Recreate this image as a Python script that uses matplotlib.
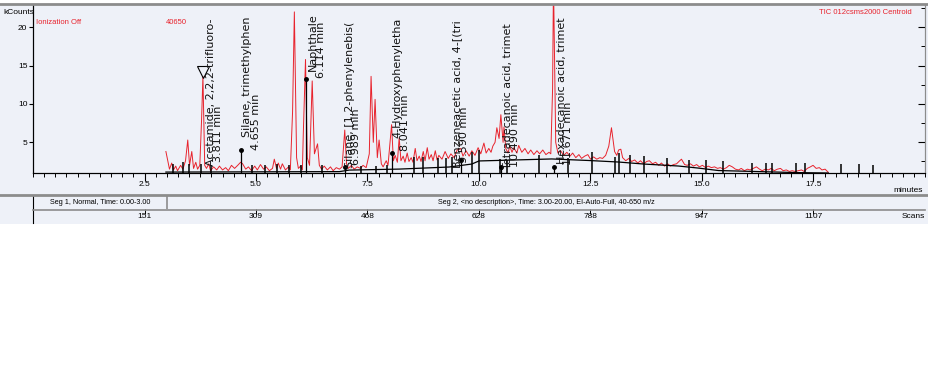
import matplotlib.pyplot as plt
from matplotlib.patches import Rectangle
from matplotlib.lines import Line2D
from matplotlib.ticker import MultipleLocator

# TIC trace (retention time in minutes, intensity in kCounts)
tic_time = [
    2.98, 3.06, 3.11, 3.15, 3.20, 3.24, 3.31, 3.36, 3.42, 3.47, 3.51, 3.56, 3.60, 3.65, 3.69,
    3.74, 3.78, 3.81, 3.85, 3.89, 3.94, 3.98, 4.05, 4.12, 4.18, 4.25, 4.32, 4.38, 4.45, 4.52,
    4.59, 4.655, 4.70, 4.77, 4.83, 4.90, 4.97, 5.03, 5.10, 5.17, 5.23, 5.30, 5.37, 5.41, 5.46,
    5.50, 5.55, 5.59, 5.66, 5.73, 5.77, 5.82, 5.86, 5.91, 5.95, 6.00, 6.04, 6.06, 6.11, 6.15,
    6.20, 6.26, 6.31, 6.38, 6.42, 6.47, 6.53, 6.60, 6.67, 6.73, 6.80, 6.87, 6.93, 6.99, 7.03,
    7.07, 7.14, 7.20, 7.27, 7.34, 7.40, 7.47, 7.54, 7.58, 7.63, 7.67, 7.72, 7.76, 7.81, 7.85,
    7.92, 7.96, 8.04, 8.08, 8.12, 8.17, 8.21, 8.25, 8.30, 8.34, 8.39, 8.43, 8.48, 8.52, 8.57,
    8.61, 8.66, 8.70, 8.75, 8.79, 8.84, 8.88, 8.93, 8.97, 9.02, 9.06, 9.10, 9.17, 9.24, 9.31,
    9.37, 9.44, 9.51, 9.59, 9.64, 9.71, 9.78, 9.84, 9.91, 9.98, 10.04, 10.11, 10.16, 10.22, 10.27,
    10.31, 10.36, 10.40, 10.45, 10.49, 10.54, 10.56, 10.60, 10.65, 10.69, 10.74, 10.78, 10.85, 10.89, 10.96,
    11.03, 11.10, 11.16, 11.23, 11.30, 11.36, 11.43, 11.50, 11.57, 11.61, 11.65, 11.67, 11.72, 11.77, 11.83,
    11.90, 11.97, 12.04, 12.10, 12.17, 12.24, 12.30, 12.37, 12.44, 12.50, 12.57, 12.64, 12.71, 12.77, 12.84,
    12.91, 12.97, 13.04, 13.09, 13.13, 13.18, 13.22, 13.29, 13.36, 13.42, 13.49, 13.56, 13.62, 13.69, 13.76,
    13.82, 13.89, 13.96, 14.03, 14.09, 14.16, 14.23, 14.29, 14.36, 14.43, 14.50, 14.54, 14.61, 14.67, 14.74,
    14.81, 14.88, 14.94, 15.01, 15.08, 15.14, 15.21, 15.28, 15.35, 15.41, 15.48, 15.55, 15.61, 15.68, 15.75,
    15.82, 15.88, 15.95, 16.02, 16.08, 16.15, 16.22, 16.29, 16.35, 16.42, 16.49, 16.55, 16.62, 16.69, 16.76,
    16.82, 16.89, 16.96, 17.02, 17.09, 17.16, 17.23, 17.29, 17.36, 17.43, 17.49, 17.56, 17.63, 17.69, 17.76,
    17.83,
]
tic_kcounts = [
    3.8, 1.5, 2.3, 1.4, 1.9, 1.3, 2.0, 1.5, 2.6, 5.3, 2.0, 3.8, 1.6, 2.4, 1.5,
    2.0, 8.0, 13.6, 2.0, 1.6, 2.2, 1.3, 1.8, 1.4, 1.9, 1.4, 1.7, 1.3, 2.0, 1.6,
    2.0, 2.4, 2.2, 1.5, 1.8, 1.3, 1.9, 1.4, 2.1, 1.5, 1.8, 1.3, 1.6, 2.8, 1.6,
    2.3, 1.5, 2.2, 1.4, 1.8, 1.4, 9.0, 22.0, 3.0, 1.6, 1.9, 1.4, 6.0, 15.8, 3.0,
    2.0, 13.0, 3.5, 4.8, 2.0, 1.5, 1.9, 1.4, 1.8, 1.3, 1.7, 1.5, 1.8, 6.6, 2.2,
    1.6, 2.0, 1.5, 1.8, 1.6, 2.0, 1.7, 3.5, 13.6, 5.0, 10.6, 3.0, 5.3, 2.2, 1.8,
    2.6, 2.0, 7.3, 2.6, 3.3, 2.4, 5.6, 2.6, 3.2, 2.4, 3.6, 2.5, 3.0, 2.4, 4.2,
    2.6, 3.2, 2.5, 3.8, 2.6, 4.3, 2.8, 3.4, 2.6, 3.9, 2.7, 3.3, 2.8, 3.8, 2.9,
    3.5, 3.0, 4.0, 4.2, 3.2, 3.9, 3.2, 3.9, 3.3, 4.3, 3.5, 4.9, 3.6, 4.2, 3.7,
    4.5, 5.0, 6.9, 5.5, 8.6, 5.0, 7.0, 4.2, 3.6, 4.5, 3.7, 4.3, 3.6, 4.6, 3.7,
    4.2, 3.5, 4.0, 3.4, 3.9, 3.5, 4.0, 3.4, 3.7, 3.5, 12.0, 26.0, 5.0, 3.6, 3.9,
    3.3, 3.7, 3.2, 3.6, 3.0, 3.4, 2.9, 3.2, 3.4, 2.8, 3.1, 2.8, 3.0, 2.9, 3.3,
    4.5, 6.9, 3.8, 3.3, 4.0, 4.1, 3.0, 2.6, 2.9, 2.5, 2.7, 2.3, 2.6, 2.2, 2.5,
    2.6, 2.2, 2.4, 2.0, 2.3, 1.9, 2.2, 1.9, 2.1, 2.2, 2.6, 2.8, 2.1, 2.0, 2.2,
    1.9, 2.1, 1.8, 2.0, 1.7, 1.9, 1.7, 1.8, 1.6, 1.7, 1.5, 1.7, 2.0, 1.8, 1.5,
    1.4, 1.6, 1.3, 1.5, 1.4, 1.6, 1.8, 1.5, 1.3, 1.5, 1.4, 1.6, 1.3, 1.5, 1.6,
    1.3, 1.4, 1.2, 1.3, 1.2, 1.3, 1.4, 1.2, 1.6, 1.8, 2.0, 1.6, 1.7, 1.4, 1.5,
    1.1,
]

# integration baseline
base_time = [2.98, 6.87, 7.09, 8.21, 9.33, 9.84, 10.00, 11.63, 12.46, 13.13, 13.69, 14.47, 14.92, 15.37, 17.16, 17.83]
base_kcounts = [1.12, 1.18, 1.38, 1.51, 1.78, 2.17, 2.57, 2.83, 2.63, 2.43, 2.17, 1.91, 1.64, 1.32, 1.05, 1.0]

# integration event markers
event_time = [3.13, 3.36, 3.49, 3.76, 3.98, 4.92, 5.21, 5.48, 5.75, 6.02,
              6.47, 7.36, 7.70, 7.94, 8.55, 8.75, 9.08, 9.26, 9.40, 9.84,
              10.00, 10.47, 10.63, 11.34, 11.99, 12.53, 13.06, 13.15, 13.38, 13.71,
              14.21, 14.70, 15.10, 15.46, 16.13, 16.44, 16.58, 17.11, 17.32, 18.12,
              18.52, 18.84]
event_top = [2.2, 2.4, 2.2, 2.2, 2.0, 2.0, 2.0, 2.2, 2.0, 2.0,
             2.0, 1.9, 1.9, 2.0, 3.1, 3.1, 3.0, 3.0, 3.1, 3.75,
             4.0, 2.8, 2.7, 3.4, 3.0, 3.75, 3.1, 3.6, 3.4, 3.2,
             3.0, 2.7, 2.7, 2.6, 2.3, 2.3, 2.3, 2.3, 2.3, 2.2,
             2.2, 2.0]

# identified peaks
peak_names = [
    "Acetamide, 2,2,2-trifluoro-",
    "Silane, trimethylphen",
    "Naphthale",
    "Silane, [1,2-phenylenebis(",
    "4-Hydroxyphenyletha",
    "Benzeneacetic acid, 4-[(tri",
    "Tetradecanoic acid, trimet",
    "Hexadecanoic acid, trimet",
]
peak_rt = [3.811, 4.655, 6.114, 6.989, 8.041, 9.590, 10.490, 11.671]
peak_mark = [14.2, 4.0, 13.3, 1.8, 3.6, 2.7, 1.8, 1.8]

# label placement: (name dx, name start, time dx, time start) in minutes / kCounts
label_place = [
    (0.18, 1.9, 0.34, 2.4),
    (0.14, 5.7, 0.345, 4.0),
    (0.16, 14.3, 0.34, 13.4),
    (0.12, 1.7, 0.25, 2.0),
    (0.14, 5.5, 0.30, 3.9),
    (-0.08, 1.7, 0.07, 2.3),
    (0.16, 1.5, 0.32, 1.8),
    (0.19, 2.2, 0.33, 2.0),
]

# segments and scan axis
seg_bounds = [0.0, 3.0, 20.0]
seg_text = ["Seg 1, Normal, Time: 0.00-3.00",
            "Seg 2, <no description>, Time: 3.00-20.00, EI-Auto-Full, 40-650 m/z"]
scan_times = [2.5, 5.0, 7.5, 10.0, 12.5, 15.0, 17.5]
scan_labels = ["151", "309", "468", "628", "788", "947", "1107"]

W, H = 929, 384
PANEL = '#eef1f8'
GRAY = '#8c8c8c'
RED = '#e8232d'
SMALL = ['Liberation Sans Narrow', 'Liberation Sans', 'DejaVu Sans']


def fbox(x0, y0, x1, y1):
    # pixel box, origin top-left -> figure rect
    return [x0 / W, 1 - y1 / H, (x1 - x0) / W, (y1 - y0) / H]


fig = plt.figure(figsize=(W / 100, H / 100), dpi=100)
fig.patch.set_facecolor('white')
fig.add_artist(Rectangle((0, 1 - 224 / H), 1, 220 / H, transform=fig.transFigure,
                         facecolor=PANEL, edgecolor='none', zorder=0))

ax = fig.add_axes(fbox(33, 5, 925, 173))
ax.set_facecolor(PANEL)
ax.set_xlim(0, 20)
ax.set_ylim(1.0, 22.9)
y0 = ax.get_ylim()[0]

ax.plot(tic_time, tic_kcounts, color=RED, lw=0.7, zorder=2)
ax.plot(base_time, base_kcounts, color='black', lw=0.9, zorder=3)
ax.vlines(event_time, y0, event_top, color='black', lw=1.1, zorder=3)

for i, (name, rt) in enumerate(zip(peak_names, peak_rt)):
    ndx, ny, tdx, ty = label_place[i]
    if i == 0:
        ax.plot(rt, peak_mark[i], marker='v', ms=9, mfc='none', mec='black', mew=0.8, zorder=4)
    else:
        ax.vlines(rt, y0, peak_mark[i], color='black', lw=0.9, zorder=3)
        ax.plot(rt, peak_mark[i], marker='o', ms=2.5, color='black', zorder=4)
    ax.text(rt + ndx, ny, name, rotation=90, rotation_mode='anchor', ha='left', va='center',
            fontsize=8, family='DejaVu Sans', color='#111111', clip_on=True, zorder=5)
    ax.text(rt + tdx, ty, f"{rt:.3f} min", rotation=90, rotation_mode='anchor', ha='left',
            va='center', fontsize=8, family='DejaVu Sans', color='#111111', clip_on=True, zorder=5)

ax.xaxis.set_minor_locator(MultipleLocator(0.25))
ax.set_xticks(scan_times)
ax.set_xticklabels([f"{t:.1f}" for t in scan_times])
ax.tick_params(axis='x', which='major', direction='out', length=6, width=0.8, labelsize=6, pad=0)
ax.tick_params(axis='x', which='minor', direction='out', length=3, width=0.7)
ax.set_yticks([5, 10, 15, 20])
ax.tick_params(axis='y', direction='out', length=3, width=0.8, labelsize=6, pad=1)
for lab in ax.get_xticklabels() + ax.get_yticklabels():
    lab.set_family(SMALL)

axr = ax.twinx()
axr.set_ylim(ax.get_ylim())
axr.set_yticks([5, 10, 15, 20])
axr.set_yticks([2.5, 7.5, 12.5, 17.5, 22.5], minor=True)
axr.tick_params(axis='y', which='major', direction='in', length=5, width=0.8, labelright=False)
axr.tick_params(axis='y', which='minor', direction='in', length=3, width=0.7)

for a in (ax, axr):
    a.spines['top'].set_visible(False)
    a.spines['right'].set_color(GRAY)
    a.spines['left'].set_linewidth(0.8)
    a.spines['bottom'].set_linewidth(0.8)

fig.text(3 / W, 1 - 12 / H, "kCounts", fontsize=6, family=SMALL, va='center', ha='left')
ax.text(3 / 892, 1 - 17 / 168, "Ionization Off", transform=ax.transAxes, fontsize=5.5,
        family=SMALL, color=RED, va='center')
ax.text(133 / 892, 1 - 17 / 168, "40650", transform=ax.transAxes, fontsize=5.5,
        family=SMALL, color=RED, va='center')
ax.text(879 / 892, 1 - 7 / 168, "TIC 012csms2000 Centroid", transform=ax.transAxes,
        fontsize=5.5, family=SMALL, color=RED, va='center', ha='right')
fig.text(923 / W, 1 - 190 / H, "minutes", fontsize=6, family=SMALL, va='center', ha='right')

# segment row
axs = fig.add_axes(fbox(33, 195, 925, 209))
axs.set_facecolor(PANEL)
axs.set_xlim(0, 20)
axs.set_ylim(0, 1)
axs.set_xticks([])
axs.set_yticks([])
for side in ('top', 'right', 'bottom'):
    axs.spines[side].set_visible(False)
axs.spines['left'].set_linewidth(0.8)
axs.axvline(seg_bounds[1], color=GRAY, lw=1.2)
for j, txt in enumerate(seg_text):
    axs.text((seg_bounds[j] + seg_bounds[j + 1]) / 2, 0.5, txt, ha='center', va='center',
             fontsize=5.2, family=SMALL)

# scans row
axc = fig.add_axes(fbox(33, 209, 925, 223))
axc.set_facecolor(PANEL)
axc.set_xlim(0, 20)
axc.set_ylim(0, 1)
axc.set_xticks([])
axc.set_yticks([])
for side in ('top', 'right', 'bottom'):
    axc.spines[side].set_visible(False)
axc.spines['left'].set_linewidth(0.8)
axc.vlines(scan_times, 0.65, 1.0, color='black', lw=0.7)
for t, s in zip(scan_times, scan_labels):
    axc.text(t, 0.45, s, ha='center', va='center', fontsize=6, family=SMALL)
fig.text(925 / W, 1 - 216 / H, "Scans", fontsize=6, family=SMALL, va='center', ha='right')

# panel rules
for yy, lw in ((4, 2.0), (195, 2.0)):
    fig.add_artist(Line2D([0, 1], [1 - yy / H] * 2, transform=fig.transFigure, color=GRAY, lw=lw))
fig.add_artist(Line2D([33 / W, 925 / W], [1 - 209.5 / H] * 2, transform=fig.transFigure,
                      color=GRAY, lw=1.2))

fig.savefig('out.png', dpi=100, facecolor='white')
